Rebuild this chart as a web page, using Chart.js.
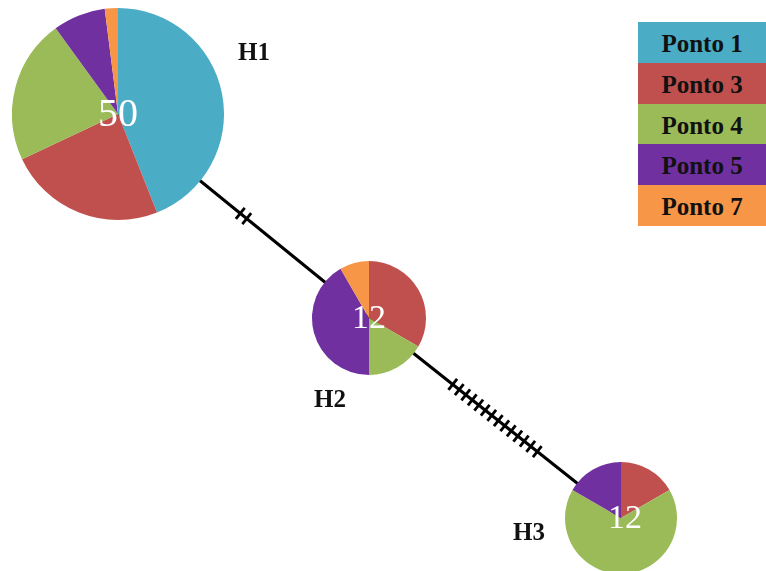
<!DOCTYPE html>
<html>
<head>
<meta charset="utf-8">
<script src="https://cdn.jsdelivr.net/npm/chart.js@4"></script>
<style>
    body { margin: 0; background: #fff; }
    #wrap { position: relative; width: 766px; height: 571px; overflow: hidden; }
    #network { position: absolute; left: 0; top: 0; }
    .pie { position: absolute; }
    #legend { position: absolute; left: 638px; top: 22px; width: 128px; }
    #legend div {
        font: bold 25px "Liberation Serif", "DejaVu Serif", serif;
        height: 40.8px; line-height: 43px; text-align: center; color: #111;
    }
</style>
</head>
<body>
<div id="wrap">
    <canvas id="network" width="766" height="571"></canvas>
    <div id="legend"></div>
</div>
<script>
// haplotypes and sampling points
const haplotypes = ['H1', 'H2', 'H3'];
const locations = ['Ponto 1', 'Ponto 3', 'Ponto 4', 'Ponto 5', 'Ponto 7'];
const locationColors = ['#4BACC6', '#C0504D', '#9BBB59', '#7030A0', '#F79646'];

// individuals per point in each haplotype
const h1Counts = [22, 12, 11, 4, 1];
const h2Counts = [0, 4, 2, 5, 1];
const h3Counts = [0, 2, 8, 2, 0];

// mutation steps between haplotypes (edges H1-H2, H2-H3)
const edges = [[0, 1], [1, 2]];
const mutations = [2, 14];

// layout of the network (pixel space)
const layout = {
    x: [118, 369, 621],
    y: [114, 318, 518],
    radius: [106, 57, 56],
    countFont: [40, 34, 34],
    countDx: [0, 0, 4],
    labelX: [254, 330, 529],
    labelY: [54, 401, 534]
};
const tickSpacing = 8.3;

const allCounts = [h1Counts, h2Counts, h3Counts];

// mutation tick marks along each edge, centered on its midpoint
const tickPoints = [];
edges.forEach(function (e, i) {
    const x0 = layout.x[e[0]], y0 = layout.y[e[0]];
    const x1 = layout.x[e[1]], y1 = layout.y[e[1]];
    const len = Math.hypot(x1 - x0, y1 - y0);
    const angle = Math.atan2(y1 - y0, x1 - x0) * 180 / Math.PI;
    const n = mutations[i];
    for (let k = 0; k < n; k++) {
        const d = (k - (n - 1) / 2) * tickSpacing;
        const t = 0.5 + d / len;
        tickPoints.push({ x: x0 + (x1 - x0) * t, y: y0 + (y1 - y0) * t, rot: angle + 90 });
    }
});

const hapLabels = {
    id: 'hapLabels',
    afterDraw(chart) {
        const ctx = chart.ctx;
        ctx.save();
        ctx.fillStyle = '#111';
        ctx.font = 'bold 25px "Liberation Serif", serif';
        ctx.textAlign = 'center';
        ctx.textBaseline = 'middle';
        haplotypes.forEach(function (h, i) {
            ctx.fillText(h, chart.scales.x.getPixelForValue(layout.labelX[i]),
                chart.scales.y.getPixelForValue(layout.labelY[i]));
        });
        ctx.restore();
    }
};

const network = new Chart(document.getElementById('network'), {
    type: 'scatter',
    data: {
        datasets: [
            {
                data: haplotypes.map((h, i) => ({ x: layout.x[i], y: layout.y[i] })),
                showLine: true,
                borderColor: '#000',
                borderWidth: 3,
                pointRadius: 0
            },
            {
                data: tickPoints,
                pointStyle: 'line',
                pointRadius: 7,
                borderColor: '#000',
                borderWidth: 2.8,
                rotation: ctx => ctx.raw ? ctx.raw.rot : 0
            }
        ]
    },
    options: {
        responsive: false,
        animation: false,
        devicePixelRatio: 1,
        events: [],
        layout: { padding: 0, autoPadding: false },
        scales: {
            x: { type: 'linear', min: 0, max: 766, display: false },
            y: { type: 'linear', min: 0, max: 571, reverse: true, display: false }
        },
        plugins: { legend: { display: false }, tooltip: { enabled: false } }
    },
    plugins: [hapLabels]
});

// one pie per haplotype, placed on the network node
const wrap = document.getElementById('wrap');
haplotypes.forEach(function (h, i) {
    const r = layout.radius[i];
    const cx = network.scales.x.getPixelForValue(layout.x[i]);
    const cy = network.scales.y.getPixelForValue(layout.y[i]);
    const canvas = document.createElement('canvas');
    canvas.className = 'pie';
    canvas.width = 2 * r;
    canvas.height = 2 * r;
    canvas.style.left = (cx - r) + 'px';
    canvas.style.top = (cy - r) + 'px';
    wrap.insertBefore(canvas, document.getElementById('legend'));

    const total = allCounts[i].reduce((a, b) => a + b, 0);
    new Chart(canvas, {
        type: 'pie',
        data: {
            labels: locations,
            datasets: [{
                data: allCounts[i],
                backgroundColor: locationColors,
                borderWidth: 0,
                hoverOffset: 0
            }]
        },
        options: {
            responsive: false,
            animation: false,
            devicePixelRatio: 1,
            events: [],
            layout: { padding: 0 },
            plugins: { legend: { display: false }, tooltip: { enabled: false } }
        },
        plugins: [{
            id: 'total',
            afterDraw(chart) {
                const ctx = chart.ctx;
                ctx.save();
                ctx.fillStyle = '#fff';
                ctx.font = layout.countFont[i] + 'px "Liberation Serif", serif';
                ctx.textAlign = 'center';
                ctx.textBaseline = 'middle';
                ctx.fillText(String(total), chart.width / 2 + layout.countDx[i], chart.height / 2 + 1);
                ctx.restore();
            }
        }]
    });
});

// legend boxes
const legend = document.getElementById('legend');
locations.forEach(function (name, i) {
    const row = document.createElement('div');
    row.textContent = name;
    row.style.background = locationColors[i];
    legend.appendChild(row);
});
</script>
</body>
</html>
